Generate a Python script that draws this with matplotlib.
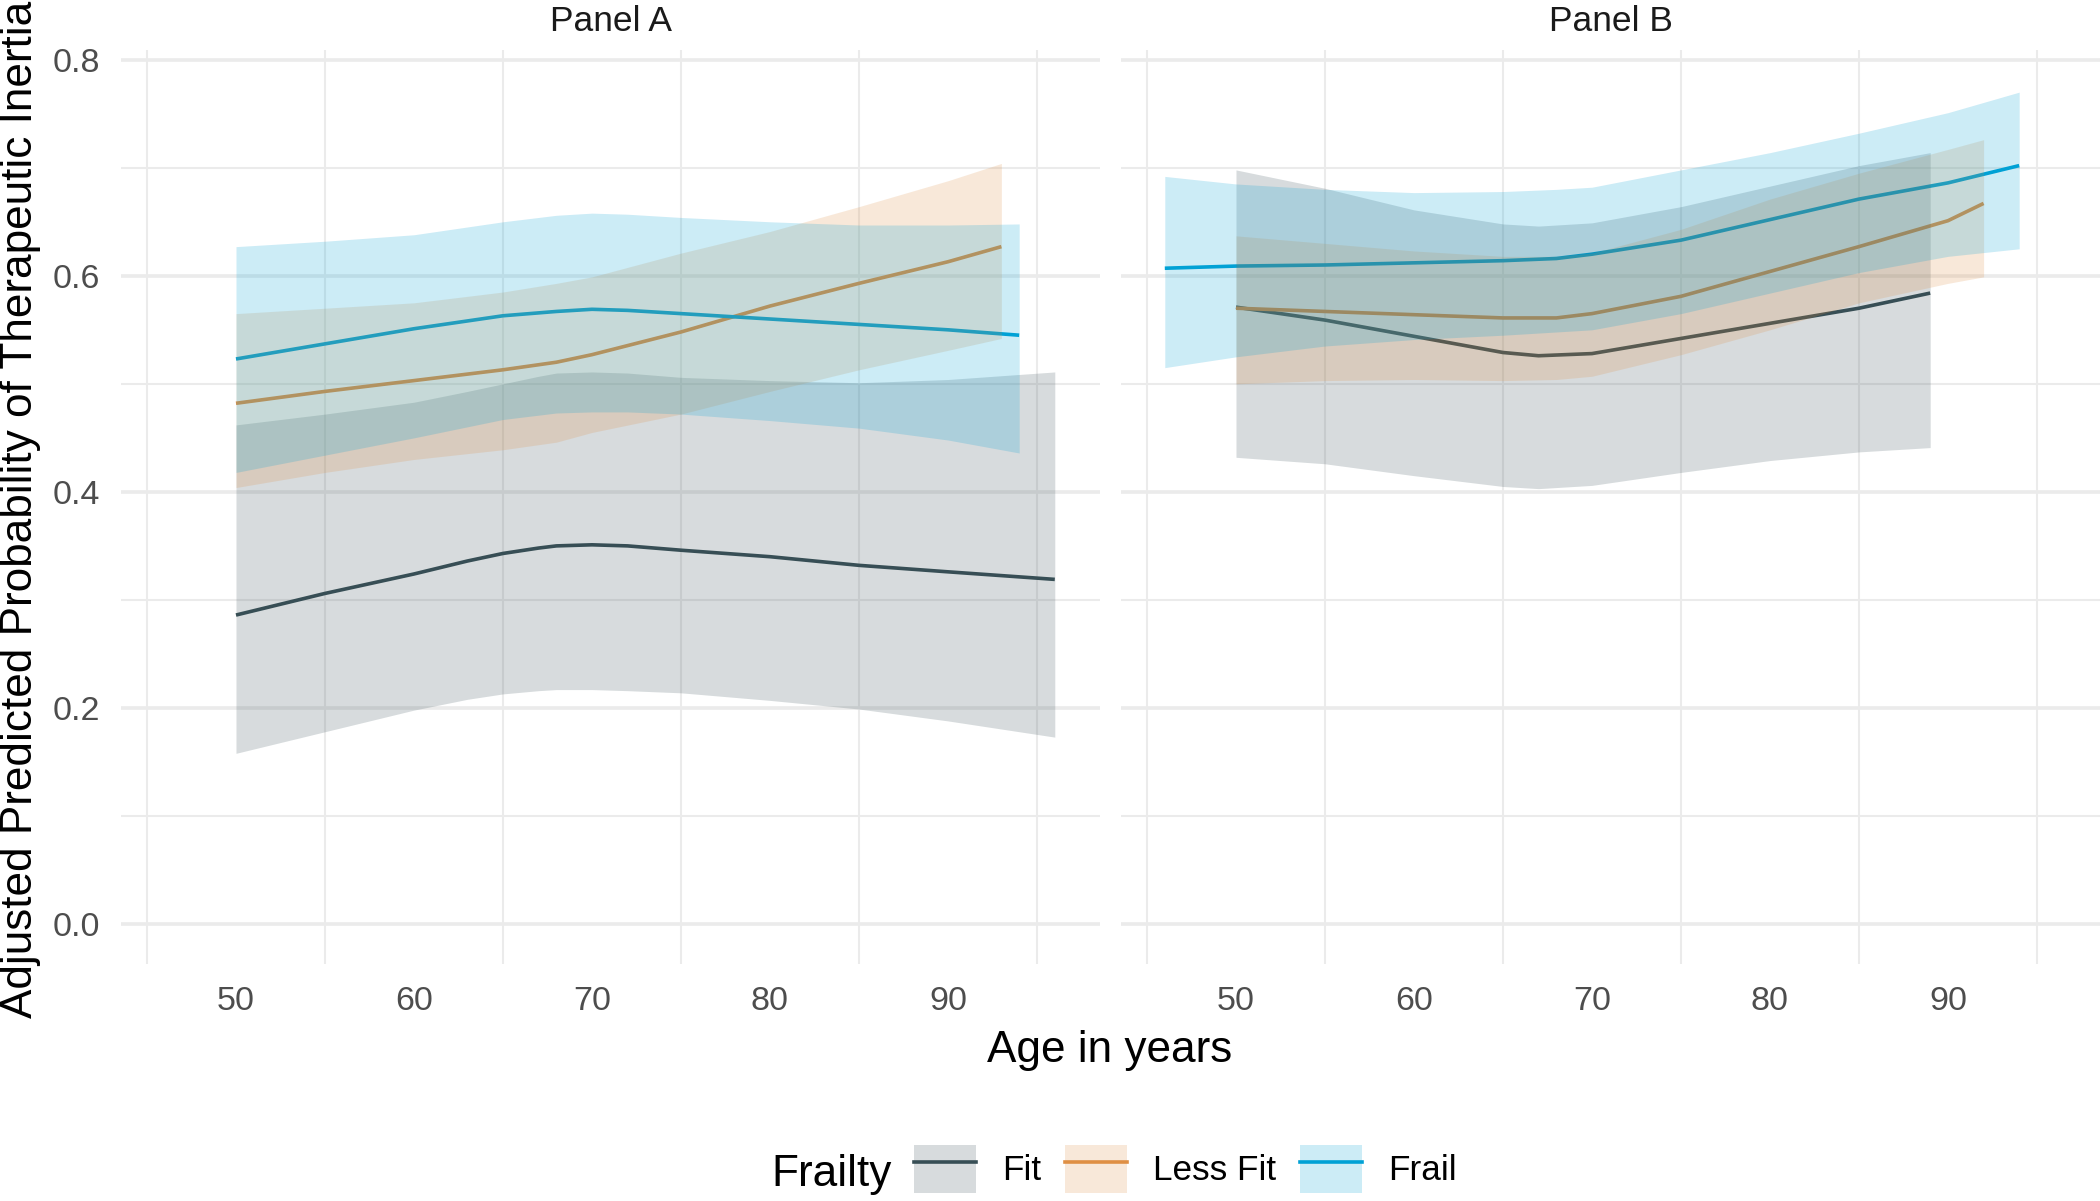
import matplotlib
matplotlib.use("Agg")
import matplotlib.pyplot as plt
from matplotlib.patches import Patch
from matplotlib.lines import Line2D
from matplotlib.ticker import FixedLocator

plt.rcParams['font.family'] = ['Liberation Sans', 'DejaVu Sans']

# ---------------- data ----------------
groups = ["Fit", "Less Fit", "Frail"]
colors = {"Fit": "#374E55", "Less Fit": "#DF8F44", "Frail": "#00A1D5"}

# Panel A
age_fit_a = [50, 55, 60, 63, 65, 67, 68, 70, 72, 75, 80, 85, 90, 96]
fit_a     = [0.286, 0.306, 0.324, 0.336, 0.343, 0.348, 0.350, 0.351, 0.350, 0.346, 0.340, 0.332, 0.326, 0.319]
fit_a_lo  = [0.158, 0.178, 0.198, 0.208, 0.213, 0.216, 0.217, 0.217, 0.216, 0.214, 0.207, 0.199, 0.188, 0.173]
fit_a_hi  = [0.462, 0.472, 0.483, 0.493, 0.500, 0.507, 0.510, 0.511, 0.510, 0.506, 0.503, 0.501, 0.504, 0.511]

age_lf_a = [50, 55, 60, 65, 68, 70, 75, 80, 85, 90, 93]
lf_a     = [0.482, 0.493, 0.503, 0.513, 0.520, 0.527, 0.548, 0.572, 0.593, 0.613, 0.627]
lf_a_lo  = [0.404, 0.418, 0.430, 0.439, 0.446, 0.455, 0.472, 0.493, 0.513, 0.531, 0.542]
lf_a_hi  = [0.565, 0.570, 0.575, 0.585, 0.593, 0.599, 0.621, 0.641, 0.664, 0.688, 0.704]

age_fr_a = [50, 55, 60, 65, 68, 70, 72, 75, 80, 85, 90, 94]
fr_a     = [0.523, 0.537, 0.551, 0.563, 0.567, 0.569, 0.568, 0.565, 0.560, 0.555, 0.550, 0.545]
fr_a_lo  = [0.418, 0.434, 0.450, 0.467, 0.473, 0.474, 0.474, 0.472, 0.466, 0.459, 0.448, 0.436]
fr_a_hi  = [0.627, 0.632, 0.638, 0.650, 0.656, 0.658, 0.657, 0.654, 0.650, 0.647, 0.647, 0.648]

# Panel B
age_fit_b = [50, 55, 60, 65, 67, 70, 75, 80, 85, 89]
fit_b     = [0.571, 0.559, 0.544, 0.529, 0.526, 0.528, 0.542, 0.556, 0.570, 0.584]
fit_b_lo  = [0.432, 0.426, 0.415, 0.405, 0.403, 0.406, 0.418, 0.429, 0.437, 0.441]
fit_b_hi  = [0.698, 0.681, 0.661, 0.648, 0.646, 0.649, 0.664, 0.683, 0.702, 0.714]

age_lf_b = [50, 55, 60, 65, 68, 70, 75, 80, 85, 90, 92]
lf_b     = [0.570, 0.567, 0.564, 0.561, 0.561, 0.565, 0.581, 0.604, 0.627, 0.651, 0.667]
lf_b_lo  = [0.500, 0.503, 0.504, 0.503, 0.504, 0.507, 0.527, 0.550, 0.575, 0.593, 0.599]
lf_b_hi  = [0.637, 0.630, 0.623, 0.618, 0.618, 0.621, 0.643, 0.671, 0.695, 0.717, 0.726]

age_fr_b = [46, 50, 55, 60, 65, 68, 70, 75, 80, 85, 90, 94]
fr_b     = [0.607, 0.609, 0.610, 0.612, 0.614, 0.616, 0.620, 0.633, 0.652, 0.671, 0.686, 0.702]
fr_b_lo  = [0.515, 0.525, 0.535, 0.541, 0.545, 0.548, 0.550, 0.565, 0.584, 0.603, 0.618, 0.625]
fr_b_hi  = [0.692, 0.685, 0.680, 0.677, 0.678, 0.680, 0.682, 0.698, 0.714, 0.732, 0.751, 0.770]

panels = {
    "Panel A": {
        "Fit": (age_fit_a, fit_a, fit_a_lo, fit_a_hi),
        "Less Fit": (age_lf_a, lf_a, lf_a_lo, lf_a_hi),
        "Frail": (age_fr_a, fr_a, fr_a_lo, fr_a_hi),
    },
    "Panel B": {
        "Fit": (age_fit_b, fit_b, fit_b_lo, fit_b_hi),
        "Less Fit": (age_lf_b, lf_b, lf_b_lo, lf_b_hi),
        "Frail": (age_fr_b, fr_b, fr_b_lo, fr_b_hi),
    },
}

x_major = [50, 60, 70, 80, 90]
x_minor = [45, 55, 65, 75, 85, 95]
y_major = [0.0, 0.2, 0.4, 0.6, 0.8]
y_minor = [0.1, 0.3, 0.5, 0.7]
y_labels = ["0.0", "0.2", "0.4", "0.6", "0.8"]

# ---------------- figure ----------------
W, H = 2100, 1201
dpi = 100
fig = plt.figure(figsize=(W / dpi, H / dpi), dpi=dpi)

def px_axes(left, top, right, bottom):
    return [left / W, (H - bottom) / H, (right - left) / W, (bottom - top) / H]

ax_a = fig.add_axes(px_axes(121, 50, 1100, 964))
ax_b = fig.add_axes(px_axes(1121, 50, 2100, 964))

grid_col = "#EBEBEB"
lw = 2.6
for ax, (title, data) in zip([ax_a, ax_b], panels.items()):
    ax.set_xlim(43.54, 98.54)
    ax.set_ylim(-0.037, 0.809)
    for s in ax.spines.values():
        s.set_visible(False)
    ax.set_axisbelow(True)
    ax.set_xticks(x_major)
    ax.set_xticklabels([str(v) for v in x_major])
    ax.xaxis.set_minor_locator(FixedLocator(x_minor))
    ax.set_yticks(y_major)
    ax.yaxis.set_minor_locator(FixedLocator(y_minor))
    if ax is ax_a:
        ax.set_yticklabels(y_labels)
    else:
        ax.set_yticklabels([])
    ax.tick_params(which="both", length=0)
    ax.tick_params(axis="x", labelsize=24.5, labelcolor="#4D4D4D", pad=16)
    ax.tick_params(axis="y", labelsize=24.5, labelcolor="#4D4D4D", pad=15)
    ax.grid(False, axis="x", which="major")
    ax.grid(True, axis="x", which="minor", color=grid_col, linewidth=1.5)
    ax.grid(True, axis="y", which="major", color=grid_col, linewidth=2.6)
    ax.grid(True, axis="y", which="minor", color=grid_col, linewidth=1.5)

    for g in groups:
        ages, mid, lo, hi = data[g]
        ax.plot(ages, mid, color=colors[g], linewidth=lw, zorder=2,
                solid_capstyle="butt", solid_joinstyle="round")
    for g in groups:
        ages, mid, lo, hi = data[g]
        ax.fill_between(ages, lo, hi, color=colors[g], alpha=0.2,
                        linewidth=0, zorder=3)
    ax.set_title(title, fontsize=25.5, color="#1A1A1A", pad=13.5)

# axis titles
fig.text(0.0, (H - 509) / H, "Adjusted Predicted Probability of Therapeutic Inertia",
         rotation=90, ha="left", va="center", fontsize=31.8, color="black")
fig.text(1110 / W, (H - 1062) / H, "Age in years", ha="center", va="baseline",
         fontsize=31.8, color="black")

# legend
fig.text(771 / W, (H - 1186) / H, "Frailty", ha="left", va="baseline",
         fontsize=31.8, color="black")
handles = []
for g in groups:
    handles.append((Patch(facecolor=colors[g], alpha=0.2, edgecolor="none"),
                    Line2D([], [], color=colors[g], linewidth=lw)))
leg_fs = 25.3
leg_px = leg_fs * dpi / 72
fig.legend(handles, groups, ncol=3, loc="center left",
           bbox_to_anchor=(914 / W, (H - 1169) / H), frameon=False,
           borderpad=0, borderaxespad=0, fontsize=leg_fs,
           handlelength=62 / leg_px, handleheight=62 / leg_px,
           handletextpad=26 / leg_px, columnspacing=24 / leg_px)

fig.savefig("out.png", dpi=dpi)
